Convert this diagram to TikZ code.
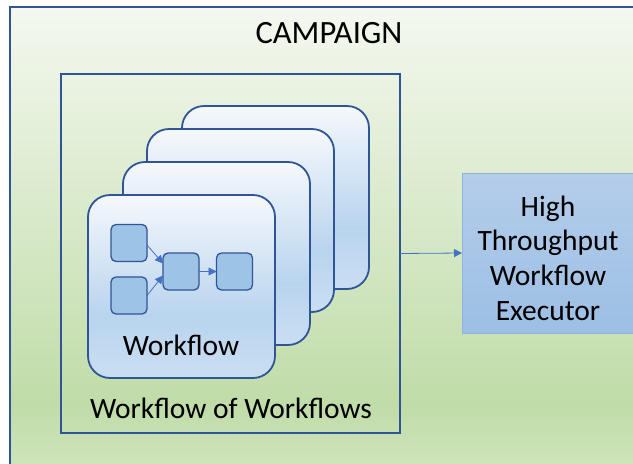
\documentclass[tikz,border=0pt]{standalone}
\usepackage{fontspec}
\setmainfont{Carlito}
\usetikzlibrary{arrows.meta,calc}
\definecolor{dkblue}{HTML}{2F5597}
\definecolor{arrowblue}{HTML}{4472C4}
\definecolor{taskfill}{HTML}{9DC3E6}
\definecolor{cardtop}{HTML}{F5F8FC}
\definecolor{cardmid}{HTML}{B9D4EE}
\definecolor{cardbot}{HTML}{CADEF2}
\definecolor{bgtop}{HTML}{F4F8F0}
\definecolor{bgmid}{HTML}{C0DCA8}
\definecolor{bgbot}{HTML}{D2E6C1}
\definecolor{extop}{HTML}{B5CDEA}
\definecolor{exbot}{HTML}{9CBFE4}
\definecolor{exline}{HTML}{8DB3E2}
\pgfdeclareverticalshading{cardshade}{100bp}{color(0bp)=(cardbot); color(25bp)=(cardbot); color(42bp)=(cardmid); color(75bp)=(cardtop); color(100bp)=(cardtop)}
\pgfdeclareverticalshading{bgshade}{100bp}{color(0bp)=(bgbot); color(25bp)=(bgbot); color(33bp)=(bgmid); color(75bp)=(bgtop); color(100bp)=(bgtop)}
\pgfdeclareverticalshading{exshade}{100bp}{color(0bp)=(exbot); color(25bp)=(exbot); color(75bp)=(extop); color(100bp)=(extop)}
\begin{document}
\begin{tikzpicture}[x=1pt,y=-1pt,
  frame/.style={draw=dkblue, line width=1.5pt, inner sep=0pt, outer sep=0pt},
  card/.style={draw=dkblue, line width=1.8pt, rounded corners=22pt, shading=cardshade,
    minimum width=187pt, minimum height=183pt, inner sep=0pt, outer sep=0pt},
  task/.style={draw=dkblue, line width=1.3pt, rounded corners=5pt, fill=taskfill,
    minimum width=36pt, minimum height=37pt, inner sep=0pt, outer sep=0pt},
  flow/.style={draw=arrowblue, line width=0.8pt, -{Triangle[length=8pt,width=8pt]}},
  lbl/.style={font=\fontsize{29.5}{34.7}\selectfont, text=black, inner sep=0pt},
  title/.style={font=\fontsize{32.5}{38}\selectfont, text=black, inner sep=0pt}
]
\clip (0,0) rectangle (633,464);
\fill[white] (0,0) rectangle (633,464);

% campaign container
\node[frame, shading=bgshade, minimum width=650pt, minimum height=473pt] (campaign) at (335,243.5) {};
\node[title, anchor=base] (camptitle) at (329,43) {CAMPAIGN};

% workflow of workflows container
\node[frame, minimum width=339pt, minimum height=359pt] (wow) at (230.5,253.5) {};
\node[lbl, anchor=base] (wowlabel) at (231,418) {Workflow of Workflows};

% stacked workflow cards
\node[card] (c4) at (275.5,197.5) {};
\node[card] (c3) at (240.5,220.5) {};
\node[card] (c2) at (216.5,253.5) {};
\node[card] (c1) at (181.5,286.5) {};

% tasks in the front workflow
\node[task] (b1) at (129,243) {};
\node[task] (b2) at (129,295.5) {};
\node[task] (b3) at (181,271.5) {};
\node[task] (b4) at (234.5,271.5) {};
\draw[flow] ($(b1.east)+(0,2)$) -- ($(b3.west)+(0,-8)$);
\draw[flow] (b2.east) -- ($(b3.west)+(0,4)$);
\draw[flow] (b3.east) -- (b4.west);
\node[lbl, anchor=base] (wflabel) at (181,355) {Workflow};

% executor
\node[draw=exline, line width=1pt, shading=exshade, minimum width=172pt, minimum height=160pt,
  inner sep=0pt, outer sep=0pt] (exec) at (548,253) {};
\node[lbl, align=center] (exectext) at (548,258) {High\\Throughput\\Workflow\\Executor};

\draw[draw=arrowblue, line width=0.8pt, -{Triangle[length=8pt,width=8pt]}] (wow.east) -- (exec.west);
\end{tikzpicture}
\end{document}
